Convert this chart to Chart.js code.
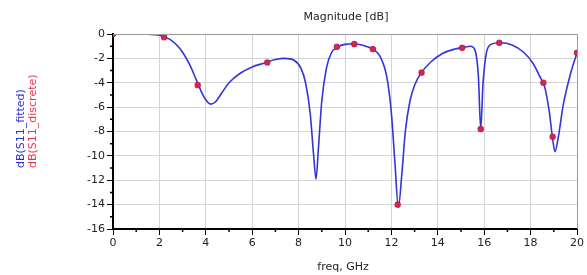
<!DOCTYPE html>
<html>
<head>
<meta charset="utf-8">
<script src="https://cdn.jsdelivr.net/npm/chart.js@4.4.1/dist/chart.umd.min.js"></script>
<style>
  html, body { margin: 0; padding: 0; background: #fff; }
  #wrap { width: 587px; height: 275px; }
</style>
</head>
<body>
<div id="wrap"><canvas id="s11Chart" width="587" height="275"></canvas></div>
<script>
// fitted curve (freq GHz / dB)
const fittedFreq = [0, 0.5, 1.0, 1.5, 2.0, 2.2, 2.5, 2.8, 3.0, 3.3, 3.6, 3.8, 4.0, 4.2, 4.4, 4.7, 5.0, 5.5, 6.0, 6.5, 7.0, 7.4, 7.8, 8.1, 8.3, 8.5, 8.65, 8.75, 8.85, 9.0, 9.2, 9.4, 9.7, 10.0, 10.4, 10.8, 11.2, 11.5, 11.8, 12.0, 12.15, 12.3, 12.45, 12.6, 12.8, 13.0, 13.3, 13.7, 14.2, 14.7, 15.1, 15.4, 15.6, 15.75, 15.85, 15.95, 16.1, 16.3, 16.7, 17.2, 17.7, 18.1, 18.4, 18.6, 18.8, 18.95, 19.05, 19.2, 19.4, 19.7, 20.0];
const fittedDb = [0, 0, 0, -0.02, -0.1, -0.25, -0.5, -1.0, -1.5, -2.5, -3.8, -4.7, -5.4, -5.75, -5.6, -4.8, -4.0, -3.2, -2.7, -2.4, -2.1, -2.0, -2.15, -2.8, -4.0, -6.5, -10, -11.9, -9.5, -5.5, -2.8, -1.6, -1.05, -0.85, -0.8, -0.95, -1.25, -1.8, -3.5, -6.5, -10.5, -14.2, -11.5, -8, -5.5, -4.2, -3.15, -2.3, -1.6, -1.25, -1.1, -1.0, -1.3, -3.5, -7.8, -4, -1.5, -0.85, -0.72, -0.9, -1.5, -2.4, -3.5, -4.3, -6.3, -8.6, -9.65, -8.4, -5.9, -3.4, -1.55];

// discrete samples (red markers)
const discreteFreq = [0, 2.2, 3.65, 6.65, 9.65, 10.4, 11.2, 12.27, 13.3, 15.05, 15.85, 16.65, 18.55, 18.95, 20];
const discreteDb = [0, -0.27, -4.2, -2.34, -1.05, -0.83, -1.24, -14.0, -3.17, -1.13, -7.8, -0.72, -4.0, -8.43, -1.54];

const xTicks = [0, 2, 4, 6, 8, 10, 12, 14, 16, 18, 20];
const yTicks = [0, -2, -4, -6, -8, -10, -12, -14, -16];

const fontFamily = "'DejaVu Sans', sans-serif";

const toPoints = (xs, ys) => xs.map((x, i) => ({ x: x, y: ys[i] }));

// frame, minor ticks and the texts around the plot
const decorations = {
  id: "decorations",
  afterDraw(chart) {
    const { ctx, chartArea: a, scales } = chart;
    ctx.save();
    // top / right border
    ctx.strokeStyle = "#9a9a9a";
    ctx.lineWidth = 1;
    ctx.beginPath();
    ctx.moveTo(a.left, a.top + 0.5);
    ctx.lineTo(a.right + 0.5, a.top + 0.5);
    ctx.lineTo(a.right + 0.5, a.bottom);
    ctx.stroke();

    // minor ticks at odd values
    ctx.strokeStyle = "#000";
    ctx.lineWidth = 1.5;
    ctx.beginPath();
    for (let v = 1; v < 20; v += 2) {
      const px = scales.x.getPixelForValue(v);
      ctx.moveTo(px, a.bottom);
      ctx.lineTo(px, a.bottom + 3);
    }
    for (let v = -1; v > -16; v -= 2) {
      const py = scales.y.getPixelForValue(v);
      ctx.moveTo(a.left, py);
      ctx.lineTo(a.left - 3, py);
    }
    ctx.stroke();

    // title
    ctx.fillStyle = "#222";
    ctx.font = "11px " + fontFamily;
    ctx.textAlign = "center";
    ctx.textBaseline = "middle";
    ctx.fillText("Magnitude [dB]", 346, 17);
    // x title
    ctx.fillText("freq, GHz", 343, 267);

    // y titles, two colours
    ctx.translate(21, 168);
    ctx.rotate(-Math.PI / 2);
    ctx.textAlign = "left";
    ctx.fillStyle = "#2b2bd6";
    ctx.fillText("dB(S11_fitted)", 0, 0);
    ctx.fillStyle = "#e8344e";
    ctx.fillText("dB(S11_discrete)", 0, 12);
    ctx.restore();
  }
};

new Chart(document.getElementById("s11Chart"), {
  type: "scatter",
  data: {
    datasets: [
      {
        label: "dB(S11_fitted)",
        data: toPoints(fittedFreq, fittedDb),
        showLine: true,
        borderColor: "#3434d8",
        borderWidth: 1.6,
        pointRadius: 0,
        cubicInterpolationMode: "monotone",
        order: 2
      },
      {
        label: "dB(S11_discrete)",
        data: toPoints(discreteFreq, discreteDb),
        showLine: false,
        pointStyle: "rectRounded",
        pointRadius: 3,
        backgroundColor: "#d8244e",
        borderColor: "#b81c44",
        borderWidth: 1,
        order: 1
      }
    ]
  },
  options: {
    responsive: false,
    animation: false,
    layout: { padding: { left: 0, right: 10, top: 34, bottom: 0 } },
    plugins: {
      legend: { display: false },
      tooltip: { enabled: false }
    },
    scales: {
      x: {
        type: "linear",
        min: 0,
        max: 20,
        afterFit: (scale) => { scale.height = 46; },
        afterBuildTicks: (scale) => { scale.ticks = xTicks.map((v) => ({ value: v })); },
        ticks: {
          color: "#222",
          font: { family: fontFamily, size: 11 },
          padding: 2
        },
        grid: { color: "#d4d4d4", tickColor: "#000", tickLength: 6 },
        border: { color: "#000", width: 2 }
      },
      y: {
        type: "linear",
        min: -16,
        max: 0,
        afterFit: (scale) => { scale.width = 113; },
        afterBuildTicks: (scale) => { scale.ticks = yTicks.map((v) => ({ value: v })); },
        ticks: {
          color: "#222",
          font: { family: fontFamily, size: 11 },
          padding: 2
        },
        grid: { color: "#d4d4d4", tickColor: "#000", tickLength: 6 },
        border: { color: "#000", width: 2 }
      }
    }
  },
  plugins: [decorations]
});
</script>
</body>
</html>
